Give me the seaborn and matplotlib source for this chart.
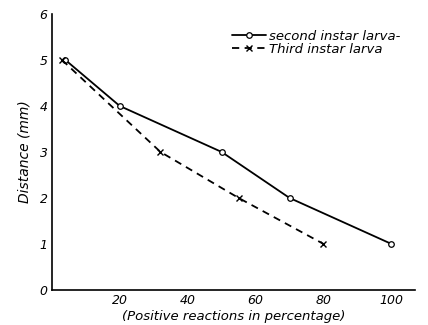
import matplotlib
matplotlib.use("Agg")
import matplotlib.pyplot as plt
import seaborn as sns
import pandas as pd

second_x = [4, 20, 50, 70, 100]
second_y = [5, 4, 3, 2, 1]
third_x = [3, 32, 55, 80]
third_y = [5, 3, 2, 1]
x_ticks = [20, 40, 60, 80, 100]
y_ticks = [0, 1, 2, 3, 4, 5, 6]

sns.set_theme(style="white")
plt.rcParams['font.family'] = ['DejaVu Sans']
plt.rcParams['text.color'] = 'black'
plt.rcParams['axes.labelcolor'] = 'black'

fig = plt.figure(figsize=(4.28, 3.25), dpi=100)
ax = fig.add_axes([0.121, 0.108, 0.849, 0.849])

df2 = pd.DataFrame({"x": second_x, "y": second_y})
df3 = pd.DataFrame({"x": third_x, "y": third_y})

sns.lineplot(data=df2, x="x", y="y", ax=ax, color="black", linewidth=1.3,
             marker="o", markersize=4, markerfacecolor="white",
             markeredgecolor="black", markeredgewidth=0.9,
             label="second instar larva-")
sns.lineplot(data=df3, x="x", y="y", ax=ax, color="black", linewidth=1.3,
             linestyle=(0, (4, 3)), marker="x", markersize=4,
             markeredgecolor="black", markeredgewidth=1.0,
             label="Third instar larva")

ax.set_xlim(0, 107)
ax.set_ylim(0, 6)
ax.set_xticks(x_ticks)
ax.set_yticks(y_ticks)
ax.set_xticklabels([str(v) for v in x_ticks], fontstyle="italic", fontsize=9)
ax.set_yticklabels([str(v) for v in y_ticks], fontstyle="italic", fontsize=9)
ax.tick_params(axis="both", length=2, width=0.8, direction="in", pad=3, colors="black")
ax.set_xlabel("(Positive reactions in percentage)", fontstyle="italic", fontsize=9.5, labelpad=2)
ax.set_ylabel("Distance (mm)", fontstyle="italic", fontsize=10, labelpad=6)
for s in ["top", "right"]:
    ax.spines[s].set_visible(False)
for s in ["left", "bottom"]:
    ax.spines[s].set_color("black")
    ax.spines[s].set_linewidth(1.2)

leg = ax.legend(loc="upper left", bbox_to_anchor=(0.47, 0.975), frameon=False,
                prop={"style": "italic", "size": 9.5}, handlelength=2.6,
                handletextpad=0.2, labelspacing=0.0, borderpad=0.2)

fig.savefig("out.png", dpi=100)
